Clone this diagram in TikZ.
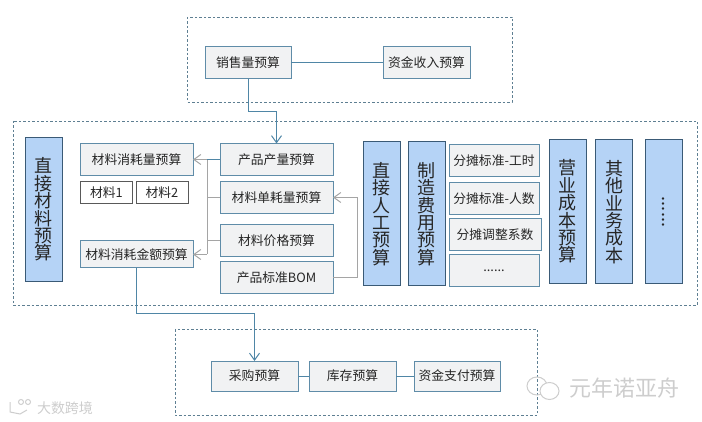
\documentclass[tikz,border=0pt]{standalone}
\usepackage{fontspec}
\setmainfont{Noto Sans CJK SC}
\usetikzlibrary{arrows.meta,positioning}
\definecolor{boxline}{HTML}{5F8CA8}
\definecolor{boxfill}{HTML}{F1F2F3}
\definecolor{barfill}{HTML}{B5D3F6}
\definecolor{barline}{HTML}{3A5A76}
\definecolor{grpline}{HTML}{5E7F92}
\definecolor{wire}{HTML}{4F86A6}
\definecolor{wiregray}{HTML}{A5A5A5}
\definecolor{wmark}{HTML}{CDCDCD}

\begin{document}
\begin{tikzpicture}[
  x=1pt,y=-1pt,
  n/.style={draw=boxline,fill=boxfill,line width=1pt,align=center,inner sep=0pt,outer sep=0pt,
    minimum width=113pt,minimum height=32pt,text=black!85,font=\fontsize{12.8pt}{14pt}\selectfont},
  small/.style={n,draw=black!65,fill=white,minimum width=52pt,minimum height=22pt},
  share/.style={n,minimum width=90pt},
  bar/.style={draw=barline,fill=barfill,line width=1pt,align=center,inner sep=0pt,outer sep=0pt,
    minimum width=37pt,minimum height=144pt,text=black!85,font=\fontsize{18pt}{17.4pt}\selectfont},
  grp/.style={draw=grpline,line width=.9pt,dash pattern=on 2.5pt off 2pt},
  ln/.style={draw=wire,line width=1pt},
  gl/.style={draw=wiregray,line width=1pt},
  arr/.style={ln,-{Straight Barb[length=7pt,width=10pt]}},
  garr/.style={gl,-{Straight Barb[length=7pt,width=10pt]}},
  wm/.style={text=wmark,inner sep=0pt},
  wl/.style={draw=wmark,line width=1pt}
]
\useasboundingbox (0,0) rectangle (702,422);

% dashed groups
\draw[grp] (187,17) rectangle (512,102);
\draw[grp] (13,121) rectangle (697,305);
\draw[grp] (175,329) rectangle (537,415);

% top
\node[n,minimum width=86pt] (sales) at (248,63) {销售量预算};
\node[n,minimum width=87pt,right=92pt of sales] (income) {资金收入预算};

% middle, left part
\node[bar] (direct) at (43.5,209.5) {直\\接\\材\\料\\预\\算};
\node[n] (mat) at (136.5,159.5) {材料消耗量预算};
\node[small] (m1) at (106.5,193) {材料1};
\node[small,right=3.5pt of m1] (m2) {材料2};
\node[n,minimum height=27pt] (cost) at (136.5,254.5) {材料消耗金额预算};

\node[n] (prod) at (276.5,159.5) {产品产量预算};
\node[n,below=6pt of prod] (unit) {材料单耗量预算};
\node[n,below=11pt of unit] (price) {材料价格预算};
\node[n,below=5pt of price] (bom) {产品标准BOM};

% middle, right part
\node[bar] (labor) at (381.5,214) {直\\接\\人\\工\\预\\算};
\node[bar,right=8pt of labor] (mfg) {制\\造\\费\\用\\预\\算};
\node[share] (s1) at (494,161) {分摊标准-工时};
\node[share,below=6pt of s1] (s2) {分摊标准-人数};
\node[share,minimum width=92pt,below=4pt of s2,xshift=1pt] (s3) {分摊调整系数};
\node[share,below=4pt of s3,xshift=-1pt] (s4) {......};
\node[bar] (oper) at (567.5,211.5) {营\\业\\成\\本\\预\\算};
\node[bar] (other) at (614,212) {其\\他\\业\\务\\成\\本};
\node[bar] (more) at (663.5,212) {\rotatebox{90}{......}};

% bottom
\node[n,minimum width=87pt,minimum height=30pt] (buy) at (254.5,376) {采购预算};
\node[n,minimum width=87pt,minimum height=30pt,right=11pt of buy] (stock) {库存预算};
\node[n,minimum width=86pt,minimum height=30pt,right=18pt of stock] (pay) {资金支付预算};

% watermarks
\node[wm,font=\fontsize{22pt}{24pt}\selectfont] (wmr) at (624,388) {元年诺亚舟};
\node[wm,font=\fontsize{14pt}{16pt}\selectfont] (wml) at (65,408) {大数跨境};
\draw[wl] (537,386) circle[x radius=10pt,y radius=9pt];
\draw[wl,fill=white] (549.5,391) circle[x radius=9.5pt,y radius=8.5pt];
\draw[wl] (10,402) -- (10,412) -- (20,414) -- (27,410);
\draw[wl] (21,402) circle[radius=2.5pt];
\draw[wl] (28,402) circle[radius=2.5pt];

% connectors
\draw[ln] (sales) -- (income);
\coordinate (t1) at (sales.south |- 0,112);
\coordinate (t2) at (prod.north |- 0,112);
\draw[arr] (sales.south) -- (t1) -- (t2) -- (prod.north);

\coordinate (bt) at (207,159.5);
\coordinate (bb) at (cost.east -| bt);
\draw[gl] (bt) -- (bb);
\draw[gl] (unit.west) -- (unit.west -| bt);
\draw[gl] (price.west) -- (price.west -| bt);
\draw[garr] (bb) -- (cost.east);
\draw[garr] (bt) -- (mat.east);
\draw[ln] (prod.west) -- (bt);

\coordinate (r1) at (357,0);
\draw[garr] (bom.east) -- (bom.east -| r1) -- (unit.east -| r1) -- (unit.east);

\coordinate (c1) at (136,314);
\coordinate (c2) at (buy.north |- c1);
\draw[arr] (c1 |- cost.south) -- (c1) -- (c2) -- (buy.north);
\draw[ln] (buy) -- (stock);
\draw[ln] (stock) -- (pay);
\end{tikzpicture}
\end{document}
